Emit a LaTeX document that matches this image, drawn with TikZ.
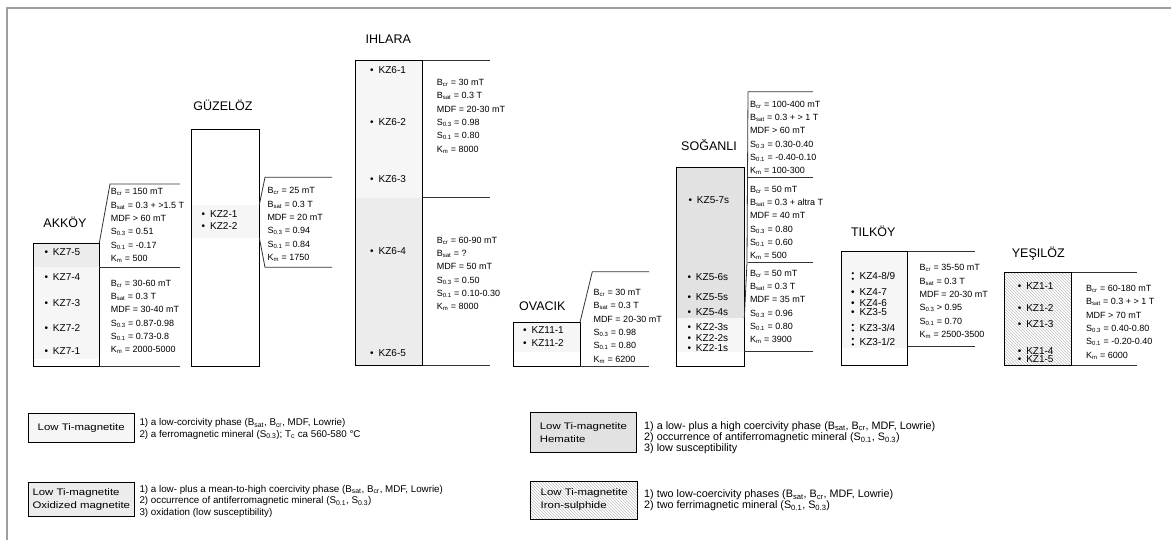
\documentclass[tikz,border=0pt]{standalone}
\usepackage{fontspec}
\setmainfont{Liberation Sans}
\newfontfamily\legfont{Liberation Sans}[FakeStretch=1.2]
\usetikzlibrary{patterns}
\newcommand{\Bcr}{B\textsubscript{cr}}
\newcommand{\Bsat}{B\textsubscript{sat}}
\newcommand{\Sthr}{S\textsubscript{0.3}}
\newcommand{\Sone}{S\textsubscript{0.1}}
\newcommand{\Km}{K\textsubscript{m}}
\newcommand{\dt}{\makebox[8.5pt][l]{\textbullet}}

\begin{document}
\begin{tikzpicture}[x=1pt, y=-1pt,
  ttl/.style={inner sep=0, font=\fontsize{12.5}{14}\selectfont},
  smpb/.style={anchor=west, inner sep=0, font=\fontsize{10}{10}\selectfont},
  smp/.style={smpb, execute at begin node=\dt},
  smpd/.style={smpb, execute at begin node=\hspace*{8.5pt}},
  dat/.style={anchor=north west, inner sep=0, align=left, font=\fontsize{9}{13.3}\selectfont},
  col/.style={draw, line width=0.8pt},
  rul/.style={draw=black!80, line width=0.8pt},
  lite/.style={fill=gray!7}, mid/.style={fill=gray!15}, dark/.style={fill=gray!23},
  hatch/.style={pattern=north west lines, pattern color=gray!50},
  leg/.style={draw, line width=0.8pt, inner sep=1pt, align=left, font=\legfont\fontsize{9.5}{13}\selectfont},
  legt/.style={anchor=north west, inner sep=0, align=left, font=\fontsize{9.8}{11.6}\selectfont},
  legr/.style={legt, font=\fontsize{10.8}{11.3}\selectfont},
  frm/.style={draw=gray!75, line width=1.6pt}]
\useasboundingbox (0,0) rectangle (1171,540);
\draw[frm] (6,8) -- (1171,8);
\draw[frm] (7,8) -- (7,540);

% Akkoy
\node[ttl] (tak) at (65,222) {AKKÖY};
\fill[mid] (33.3,243) rectangle (99.3,267);
\fill[lite] (33.3,267) rectangle (99.3,359);
\draw[col] (33.3,243) rectangle (99.3,366);
\draw[rul] (99.3,243) -- (110,184) -- (180,184);
\draw[rul] (99.3,267) -- (180,267);
\draw[rul] (99.3,366) -- (180,366);
\foreach \t/\y [count=\i] in {KZ7-5/251.7,KZ7-4/277,KZ7-3/302.7,KZ7-2/328,KZ7-1/350.7}
  \node[smp] (ak\i) at (44.3,\y) {\t};
\node[dat] (dak1) at (110.7,188.5) {\Bcr{} = 150 mT\\\Bsat{} = 0.3 + >1.5 T\\MDF > 60 mT\\\Sthr{} = 0.51\\\Sone{} = -0.17\\\Km{} = 500};
\node[dat] (dak2) at (110.7,279.8) {\Bcr{} = 30-60 mT\\\Bsat{} = 0.3 T\\MDF = 30-40 mT\\\Sthr{} = 0.87-0.98\\\Sone{} = 0.73-0.8\\\Km{} = 2000-5000};

% Guzeloz
\node[ttl] (tgu) at (223,105) {GÜZELÖZ};
\fill[lite] (191.7,205) rectangle (259.3,237.7);
\draw[col] (191.7,129.3) rectangle (259.3,366);
\draw[rul] (259.3,205) -- (265,177.3) -- (332,177.3);
\draw[rul] (259.3,237.7) -- (265,267.3) -- (332,267.3);
\foreach \t/\y [count=\i] in {KZ2-1/214,KZ2-2/226}
  \node[smp] (gu\i) at (201.5,\y) {\t};
\node[dat] (dgu) at (267.3,187.5) {\Bcr{} = 25 mT\\\Bsat{} = 0.3 T\\MDF = 20 mT\\\Sthr{} = 0.94\\\Sone{} = 0.84\\\Km{} = 1750};

% Ihlara
\node[ttl] (tih) at (388.3,39) {IHLARA};
\fill[lite] (355.7,60.7) rectangle (422.7,197.7);
\fill[mid] (355.7,197.7) rectangle (422.7,365.7);
\draw[col] (355.7,60.7) rectangle (422.7,365.7);
\foreach \y in {60.7,197.7,365.7} \draw[rul] (422.7,\y) -- (490,\y);
\foreach \t/\y [count=\i] in {KZ6-1/70,KZ6-2/122.3,KZ6-3/179,KZ6-4/250.7,KZ6-5/353.3}
  \node[smp] (ih\i) at (370,\y) {\t};
\node[dat] (dih1) at (436.7,79.1) {\Bcr{} = 30 mT\\\Bsat{} = 0.3 T\\MDF = 20-30 mT\\\Sthr{} = 0.98\\\Sone{} = 0.80\\\Km{} = 8000};
\node[dat] (dih2) at (436.7,236.8) {\Bcr{} = 60-90 mT\\\Bsat{} = ?\\MDF = 50 mT\\\Sthr{} = 0.50\\\Sone{} = 0.10-0.30\\\Km{} = 8000};

% Ovacik
\node[ttl] (tov) at (542.3,306) {OVACIK};
\fill[lite] (513.3,322.3) rectangle (580,351.7);
\draw[col] (513.3,322.3) rectangle (580,366);
\draw[rul] (580,322.3) -- (592.3,271.7) -- (649,271.7);
\draw[rul] (580,366) -- (649,366);
\foreach \t/\y [count=\i] in {KZ11-1/330,KZ11-2/343.3}
  \node[smp] (ov\i) at (523,\y) {\t};
\node[dat] (dov) at (593.3,289.1) {\Bcr{} = 30 mT\\\Bsat{} = 0.3 T\\MDF = 20-30 mT\\\Sthr{} = 0.98\\\Sone{} = 0.80\\\Km{} = 6200};

% Soganli
\node[ttl] (tso) at (709,145) {SOĞANLI};
\fill[dark] (676.7,167.3) rectangle (744.3,318.3);
\fill[lite] (676.7,318.3) rectangle (744.3,351.7);
\draw[col] (676.7,167.3) rectangle (744.3,366);
\draw[rul] (813,91.7) -- (748,91.7) -- (747,262.5) -- (744.3,318.3);
\foreach \y in {177,262.5} \draw[rul] (747.5,\y) -- (813,\y);
\draw[rul] (744.3,351.7) -- (813,351.7);
\node[smp] (so1) at (688.3,200) {KZ5-7s};
\foreach \t/\y [count=\i from 2] in {KZ5-6s/277.3,KZ5-5s/296.7,KZ5-4s/311.7,KZ2-3s/327.3,KZ2-2s/338.3,KZ2-1s/348.3}
  \node[smp] (so\i) at (687.3,\y) {\t};
\node[dat] (dso1) at (750,100.8) {\Bcr{} = 100-400 mT\\\Bsat{} = 0.3 + > 1 T\\MDF > 60 mT\\\Sthr{} = 0.30-0.40\\\Sone{} = -0.40-0.10\\\Km{} = 100-300};
\node[dat] (dso2) at (750,185.8) {\Bcr{} = 50 mT\\\Bsat{} = 0.3 + altra T\\MDF = 40 mT\\\Sthr{} = 0.80\\\Sone{} = 0.60\\\Km{} = 500};
\node[dat] (dso3) at (750,269.8) {\Bcr{} = 50 mT\\\Bsat{} = 0.3 T\\MDF = 35 mT\\\Sthr{} = 0.96\\\Sone{} = 0.80\\\Km{} = 3900};

% Tilkoy
\node[ttl] (tti) at (873.3,231.7) {TILKÖY};
\fill[lite] (841.7,251.7) rectangle (907.7,347.7);
\draw[col] (841.7,251.7) rectangle (907.7,365.7);
\foreach \y in {251.7,346.7} \draw[rul] (907.7,\y) -- (975,\y);
\foreach \t/\y/\m [count=\i] in {{KZ4-8/9}/276/smpd,KZ4-7/291.7/smp,KZ4-6/302.7/smp,KZ3-5/311.7/smp,{KZ3-3/4}/327.7/smpd,{KZ3-1/2}/341.7/smpd}
  \node[\m] (ti\i) at (851,\y) {\t};
\foreach \i in {1,5,6}
  \fill ([xshift=1.8pt]ti\i.west) +(0,-2.8) circle (1.2) +(0,2.8) circle (1.2);
\node[dat] (dti) at (919.3,264.5) {\Bcr{} = 35-50 mT\\\Bsat{} = 0.3 T\\MDF = 20-30 mT\\\Sthr{} > 0.95\\\Sone{} = 0.70\\\Km{} = 2500-3500};

% Yesiloz
\node[ttl] (tye) at (1038.3,253.3) {YEŞILÖZ};
\fill[hatch] (1004,272.3) rectangle (1071.7,365.7);
\draw[col] (1004,272.3) rectangle (1071.7,365.7);
\foreach \y in {272.3,365.7} \draw[rul] (1071.7,\y) -- (1136.7,\y);
\foreach \t/\y [count=\i] in {KZ1-1/286,KZ1-2/308.3,KZ1-3/324,KZ1-4/350.7,KZ1-5/359.3}
  \node[smp] (ye\i) at (1017.6,\y) {\t};
\node[dat] (dye) at (1086,285.1) {\Bcr{} = 60-180 mT\\\Bsat{} = 0.3 + > 1 T\\MDF > 70 mT\\\Sthr{} = 0.40-0.80\\\Sone{} = -0.20-0.40\\\Km{} = 6000};

% legend
\node[leg, lite, minimum width=105.7, minimum height=29.4] (lg1) at (81.2,428) {Low Ti-magnetite};
\node[leg, mid, minimum width=106, minimum height=33.3] (lg2) at (81.3,499.4) {Low Ti-magnetite\\Oxidized magnetite};
\node[leg, dark, minimum width=105.3, minimum height=39.6] (lg3) at (583.4,432.5) {Low Ti-magnetite\\Hematite};
\node[leg, hatch, minimum width=107, minimum height=38] (lg4) at (584.2,500) {Low Ti-magnetite\\Iron-sulphide};
\node[legt] (ld1) at (139.3,418.2) {1) a low-corcivity phase (\Bsat, \Bcr, MDF, Lowrie)\\2) a ferromagnetic mineral (\Sthr); T\textsubscript{c} ca 560-580 °C};
\node[legt] (ld2) at (139.3,484.8) {1) a low- plus a mean-to-high coercivity phase (\Bsat, \Bcr, MDF, Lowrie)\\2) occurrence of antiferromagnetic mineral (\Sone, \Sthr)\\3) oxidation (low susceptibility)};
\node[legr] (ld3) at (644,421.1) {1) a low- plus a high coercivity phase (\Bsat, \Bcr, MDF, Lowrie)\\2) occurrence of antiferromagnetic mineral (\Sone, \Sthr)\\3) low susceptibility};
\node[legr] (ld4) at (644,489.4) {1) two low-coercivity phases (\Bsat, \Bcr, MDF, Lowrie)\\2) two ferrimagnetic mineral (\Sone, \Sthr)};
\end{tikzpicture}
\end{document}
